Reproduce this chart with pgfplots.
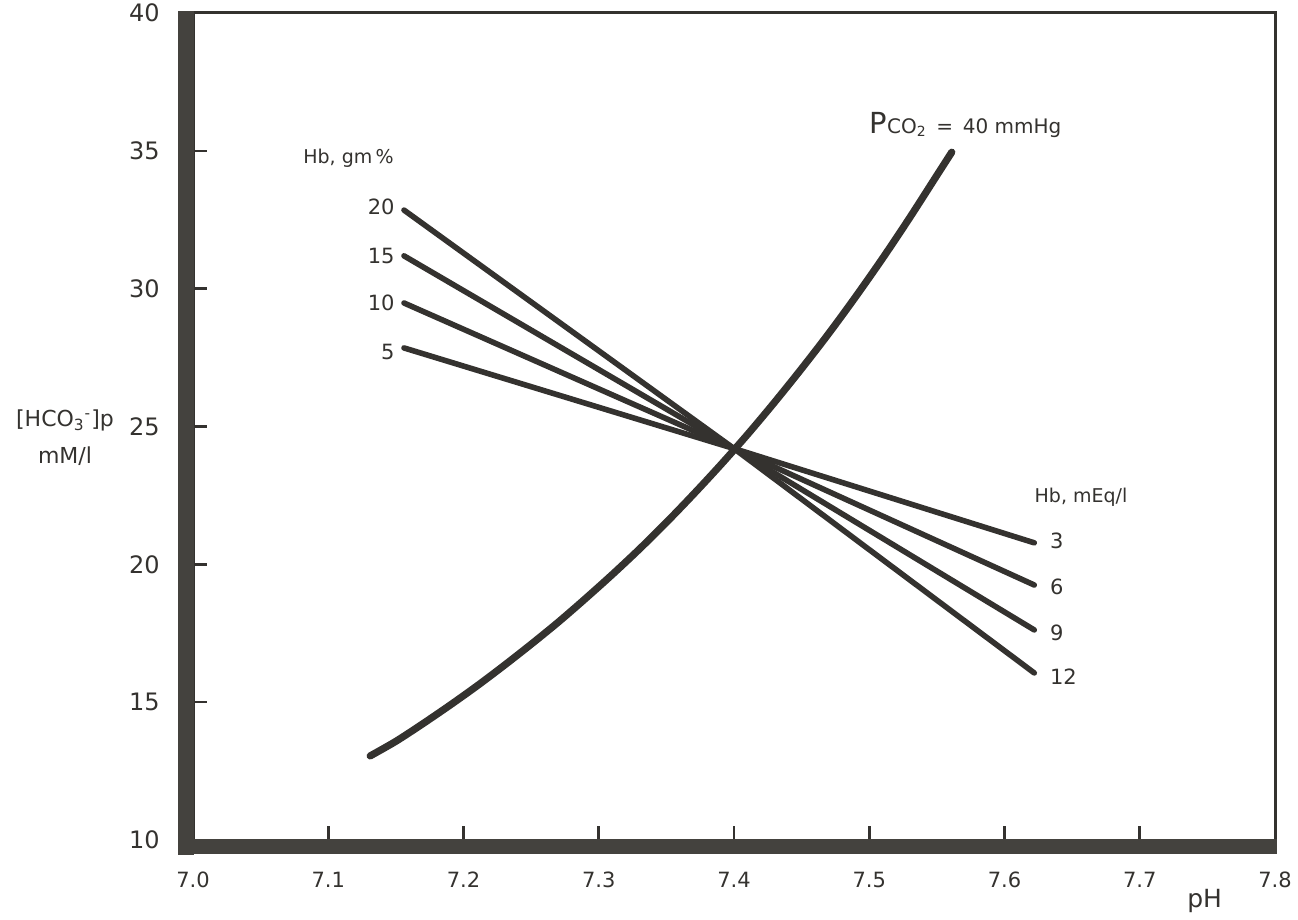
\documentclass[border=0pt]{standalone}
\usepackage{fontspec}
\setmainfont{DejaVu Sans}
\usepackage{pgfplots}
\pgfplotsset{compat=1.18}

\definecolor{ink}{RGB}{52,50,47}
\definecolor{barink}{RGB}{68,66,62}

% CO2 isobar (PCO2 = 40 mmHg): pH vs plasma bicarbonate
\pgfplotstableread{
ph    hco3
7.131 13.05
7.150 13.58
7.170 14.22
7.190 14.89
7.210 15.59
7.230 16.33
7.250 17.10
7.270 17.90
7.290 18.75
7.310 19.63
7.330 20.55
7.350 21.52
7.370 22.54
7.390 23.60
7.410 24.71
7.430 25.88
7.450 27.10
7.470 28.37
7.490 29.71
7.510 31.11
7.530 32.58
7.550 34.11
7.561 34.95
}\isobar

\begin{document}
\begin{tikzpicture}
\begin{axis}[
  scale only axis,
  width=541pt, height=413.5pt,
  xmin=7.0, xmax=7.8, ymin=10, ymax=40,
  clip=false,
  axis line style={line width=1.5pt, ink},
  xtick={7.0,7.1,7.2,7.3,7.4,7.5,7.6,7.7,7.8},
  xticklabels={7.0,7.1,7.2,7.3,7.4,7.5,7.6,7.7,7.8},
  ytick={10,15,20,25,30,35,40},
  yticklabels={10,15,20,25,30,35,40},
  xtick pos=bottom, ytick pos=left,
  tick align=inside,
  major tick length=7pt,
  tick style={line width=1.3pt, ink},
  /pgf/number format/assume math mode=true,
  xticklabel style={font=\fontsize{10.5}{12}\selectfont, text=ink, anchor=center, yshift=-20pt},
  yticklabel style={font=\fontsize{12}{13}\selectfont, text=ink, anchor=east, inner sep=0pt, xshift=-16.5pt},
]
% isobar
\addplot[ink, line width=3.6pt, line cap=round, smooth, no markers] table[x=ph, y=hco3] {\isobar};

% buffer lines through the normal point, one per haemoglobin level
\addplot[ink, line width=2.8pt, line cap=round, no markers] coordinates {(7.156,32.85) (7.400,24.20) (7.622,16.06)};
\addplot[ink, line width=2.8pt, line cap=round, no markers] coordinates {(7.156,31.19) (7.400,24.20) (7.622,17.62)};
\addplot[ink, line width=2.8pt, line cap=round, no markers] coordinates {(7.156,29.48) (7.400,24.20) (7.622,19.25)};
\addplot[ink, line width=2.8pt, line cap=round, no markers] coordinates {(7.156,27.85) (7.400,24.20) (7.622,20.78)};

% heavy left and bottom rules
\fill[barink] ([xshift=-7.5pt, yshift=0.75pt]rel axis cs:0,1) rectangle ([xshift=0.7pt, yshift=-7.5pt]rel axis cs:0,0);
\fill[barink] ([xshift=-7.5pt, yshift=0.7pt]rel axis cs:0,0) rectangle ([xshift=0.75pt, yshift=-7pt]rel axis cs:1,0);

% annotations
\node[anchor=west, text=ink, inner sep=0pt] at (axis cs:7.500,35.95)
  {{\fontsize{14.5}{15}\selectfont P}{\fontsize{10}{12}\selectfont CO\textsubscript{2}\ \,=\ \,40\ mmHg}};

\node[anchor=west, text=ink, inner sep=0pt, font=\fontsize{9.5}{12}\selectfont] at (axis cs:7.0813,34.74) {Hb, gm\,\%};
\node[anchor=east, text=ink, inner sep=0pt, font=\fontsize{10.5}{12}\selectfont] at (axis cs:7.1493,32.95) {20};
\node[anchor=east, text=ink, inner sep=0pt, font=\fontsize{10.5}{12}\selectfont] at (axis cs:7.1493,31.20) {15};
\node[anchor=east, text=ink, inner sep=0pt, font=\fontsize{10.5}{12}\selectfont] at (axis cs:7.1493,29.48) {10};
\node[anchor=east, text=ink, inner sep=0pt, font=\fontsize{10.5}{12}\selectfont] at (axis cs:7.1493,27.70) {5};

\node[anchor=west, text=ink, inner sep=0pt, font=\fontsize{9.5}{12}\selectfont] at (axis cs:7.622,22.44) {Hb, mEq/l};
\node[anchor=west, text=ink, inner sep=0pt, font=\fontsize{10.5}{12}\selectfont] at (axis cs:7.6334,20.85) {3};
\node[anchor=west, text=ink, inner sep=0pt, font=\fontsize{10.5}{12}\selectfont] at (axis cs:7.6334,19.18) {6};
\node[anchor=west, text=ink, inner sep=0pt, font=\fontsize{10.5}{12}\selectfont] at (axis cs:7.6334,17.51) {9};
\node[anchor=west, text=ink, inner sep=0pt, font=\fontsize{10.5}{12}\selectfont] at (axis cs:7.6334,15.92) {12};

% axis titles
\node[align=center, text=ink, inner sep=0pt, font=\fontsize{11}{18.5}\selectfont, xshift=-64pt] at (axis cs:7.0,24.6)
  {[HCO\textsubscript{3}\textsuperscript{-}]p\\mM/l};
\node[text=ink, inner sep=0pt, font=\fontsize{12.5}{14}\selectfont, yshift=-30.5pt] at (axis cs:7.748,10) {pH};

\coordinate (bl) at (rel axis cs:0,0);
\coordinate (tr) at (rel axis cs:1,1);
\end{axis}
\pgfresetboundingbox
\path[use as bounding box] ([shift={(-96.5pt,-39.5pt)}]bl) rectangle ([shift={(11.5pt,6.5pt)}]tr);
\end{tikzpicture}
\end{document}
